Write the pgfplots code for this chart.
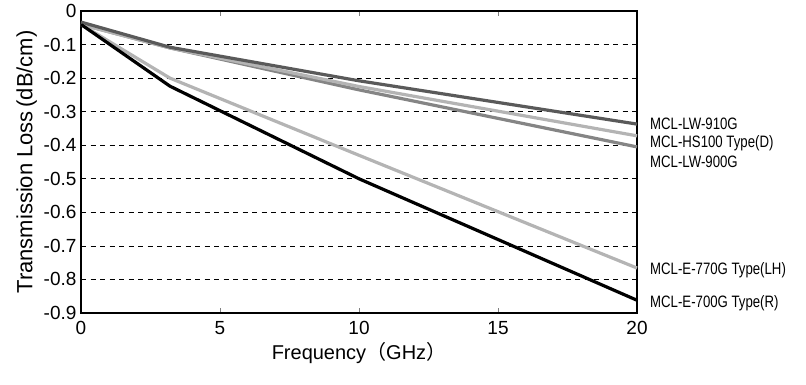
\documentclass[border=0pt]{standalone}
\usepackage{fontspec}
\setmainfont{Liberation Sans}
\newfontfamily\cjk{Noto Sans CJK JP}
\newfontfamily\narrowfont[FakeStretch=0.8]{Liberation Sans}
\usepackage{pgfplots}
\pgfplotsset{compat=1.18}
\definecolor{cDark}{HTML}{5A5A5A}
\definecolor{cMid}{HTML}{858585}
\definecolor{cLight}{HTML}{B4B4B4}
\begin{document}
\begin{tikzpicture}[x=1pt,y=1pt]
\begin{axis}[
  at={(81pt,72pt)}, anchor=south west,
  scale only axis, width=556pt, height=302pt,
  xmin=0, xmax=20, ymin=-0.9, ymax=0,
  xtick={0,5,10,15,20},
  ytick={-0.9,-0.8,...,0},
  yticklabels={-0.9,-0.8,-0.7,-0.6,-0.5,-0.4,-0.3,-0.2,-0.1,0},
  /pgf/number format/assume math mode=true,
  tick label style={font=\fontsize{19}{21}\selectfont},
  xtick style={draw=gray, thin},
  ytick style={draw=none},
  tick align=inside,
  major tick length=5pt,
  xticklabel style={yshift=-5pt},
  yticklabel style={xshift=-1pt},
  axis line style={line width=1.4pt},
  ymajorgrids=true,
  grid style={black, line width=0.7pt, dash pattern=on 5pt off 4.5pt},
  xlabel={Frequency{\cjk （}GHz{\cjk ）}},
  ylabel={Transmission Loss\,(dB/cm)},
  xlabel style={font=\fontsize{20}{22}\selectfont, yshift=-1pt},
  ylabel style={font=\fontsize{22}{24}\selectfont, yshift=0pt},
  clip=false,
]
\addplot[cMid, line width=3.2pt] coordinates {(0,-0.04) (3.2,-0.11) (10,-0.235) (20,-0.405)};
\addplot[cLight, line width=3.2pt] coordinates {(0,-0.04) (3.2,-0.11) (10,-0.225) (20,-0.372)};
\addplot[cDark, line width=3.2pt] coordinates {(0,-0.033) (3.2,-0.108) (10,-0.208) (20,-0.337)};
\addplot[cLight, line width=3.2pt] coordinates {(0,-0.04) (3.2,-0.2) (10,-0.43) (20,-0.766)};
\addplot[black, line width=3.2pt] coordinates {(0,-0.04) (3.2,-0.224) (10,-0.5) (20,-0.862)};
\begin{scope}[every node/.style={anchor=west, font=\narrowfont\fontsize{16.5}{18}\selectfont, inner sep=0pt}]
\node at (axis cs:20,-0.337) [xshift=13pt] {MCL-LW-910G};
\node at (axis cs:20,-0.393) [xshift=13pt] {MCL-HS100 Type(D)};
\node at (axis cs:20,-0.45) [xshift=13pt] {MCL-LW-900G};
\node at (axis cs:20,-0.772) [xshift=13pt] {MCL-E-770G Type(LH)};
\node at (axis cs:20,-0.87) [xshift=13pt] {MCL-E-700G Type(R)};
\end{scope}
\end{axis}
\path[use as bounding box] (0,0) rectangle (806,385);
\end{tikzpicture}
\end{document}
